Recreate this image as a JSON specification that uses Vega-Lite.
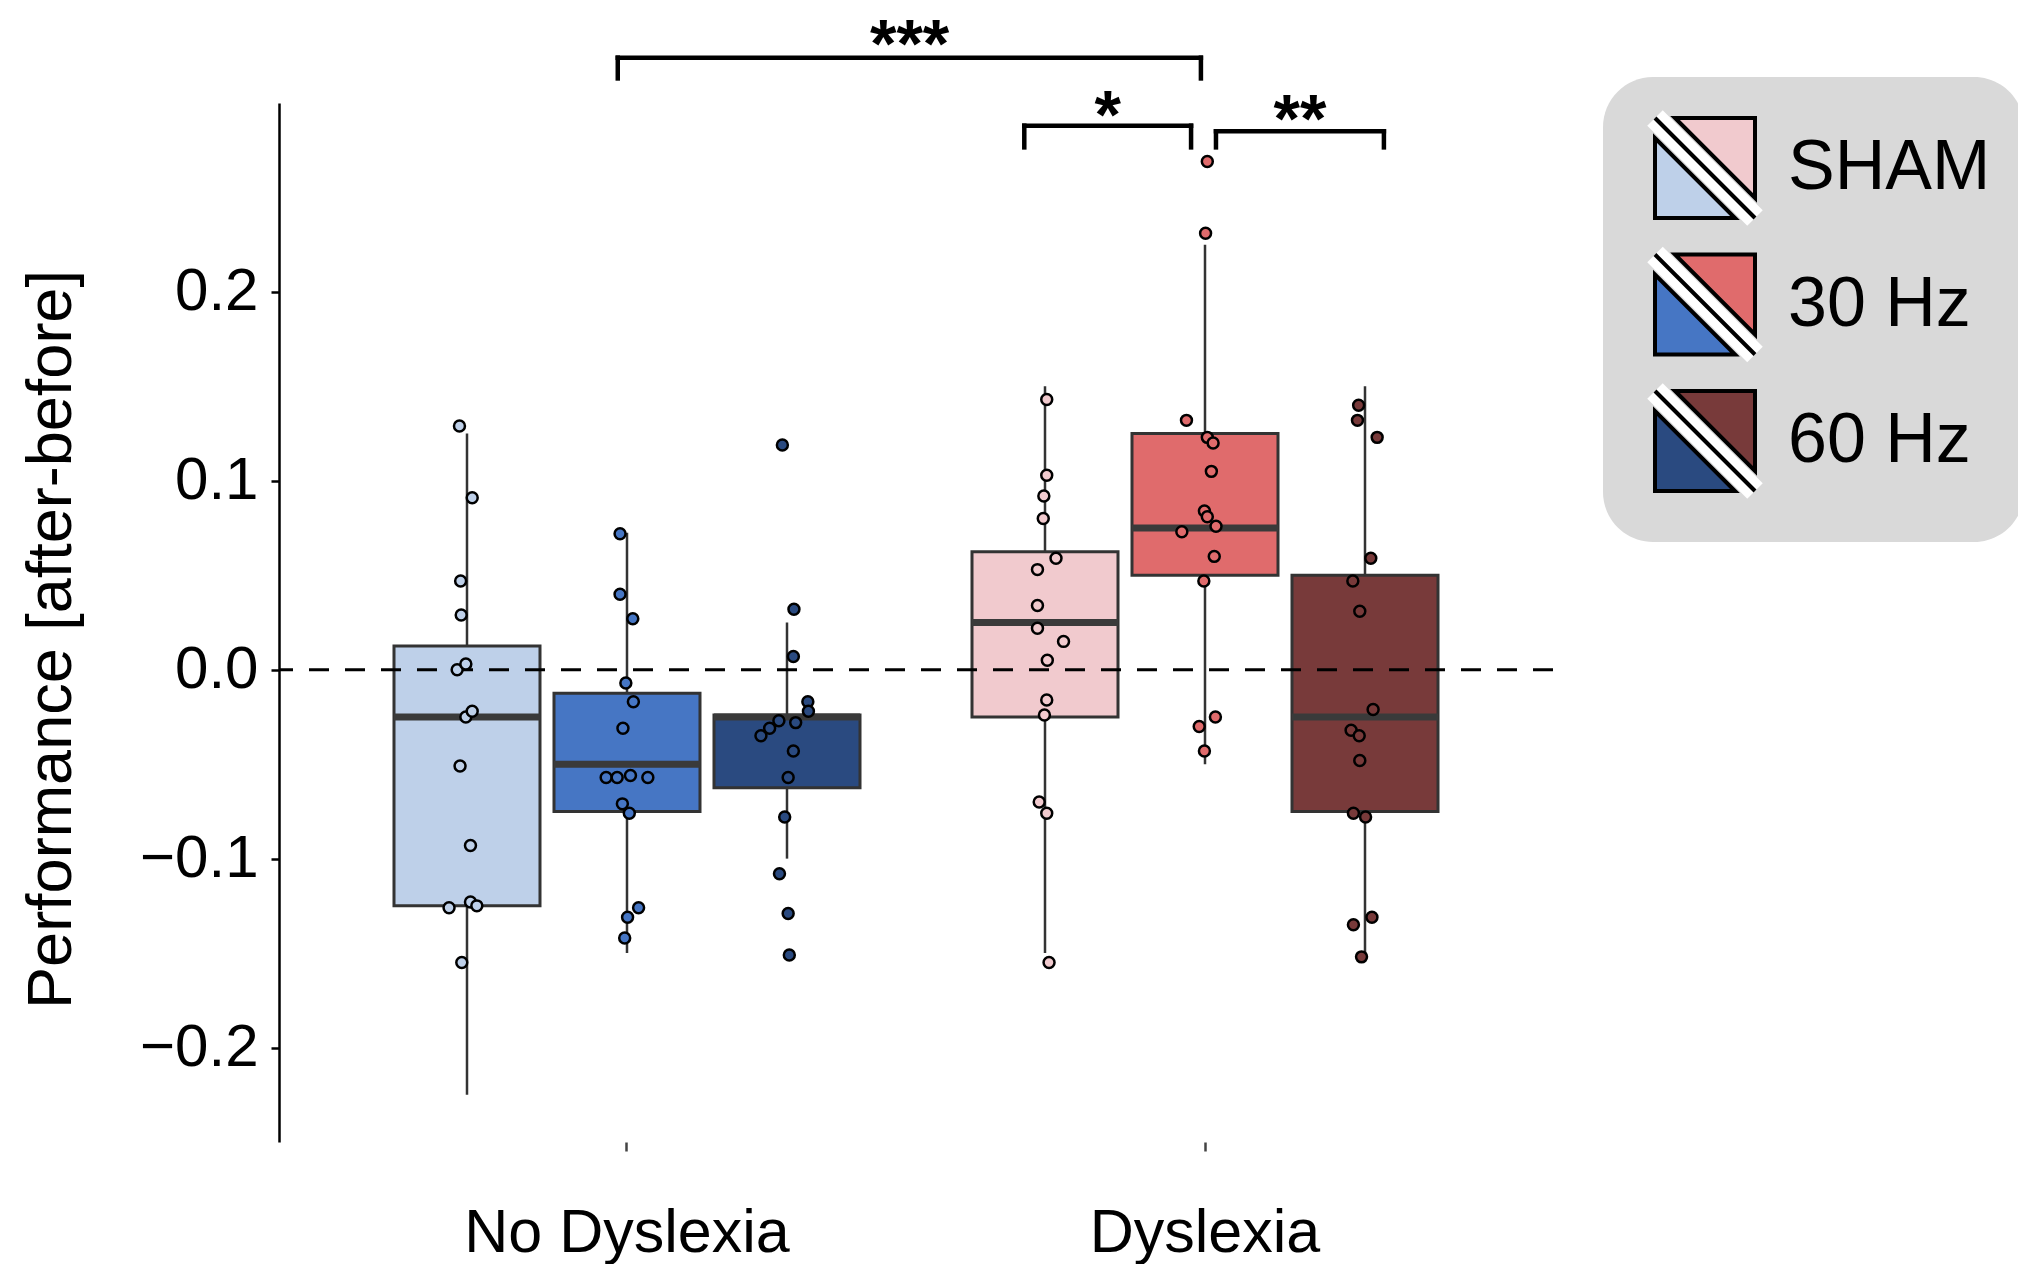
{
  "$schema": "https://vega.github.io/schema/vega-lite/v6.json",
  "width": 1274,
  "height": 1039,
  "autosize": {"type": "none"},
  "padding": {"left": 279, "top": 103, "right": 465, "bottom": 122},
  "background": "white",
  "datasets": {
    "boxes": [
      {"group": "No Dyslexia", "condition": "SHAM", "series": "No Dyslexia SHAM", "lower": -0.225, "q1": -0.125, "median": -0.025, "q3": 0.0125, "upper": 0.125},
      {"group": "No Dyslexia", "condition": "30 Hz", "series": "No Dyslexia 30 Hz", "lower": -0.15, "q1": -0.075, "median": -0.05, "q3": -0.0125, "upper": 0.0725},
      {"group": "No Dyslexia", "condition": "60 Hz", "series": "No Dyslexia 60 Hz", "lower": -0.1, "q1": -0.0625, "median": -0.025, "q3": -0.024, "upper": 0.025},
      {"group": "Dyslexia", "condition": "SHAM", "series": "Dyslexia SHAM", "lower": -0.15, "q1": -0.025, "median": 0.025, "q3": 0.0625, "upper": 0.15},
      {"group": "Dyslexia", "condition": "30 Hz", "series": "Dyslexia 30 Hz", "lower": -0.05, "q1": 0.05, "median": 0.075, "q3": 0.125, "upper": 0.225},
      {"group": "Dyslexia", "condition": "60 Hz", "series": "Dyslexia 60 Hz", "lower": -0.15, "q1": -0.075, "median": -0.025, "q3": 0.05, "upper": 0.15}
    ],
    "points": [
      {"group": "No Dyslexia", "condition": "SHAM", "series": "No Dyslexia SHAM", "value": 0.129, "jitter": -0.013},
      {"group": "No Dyslexia", "condition": "SHAM", "series": "No Dyslexia SHAM", "value": 0.091, "jitter": 0.009},
      {"group": "No Dyslexia", "condition": "SHAM", "series": "No Dyslexia SHAM", "value": 0.047, "jitter": -0.011},
      {"group": "No Dyslexia", "condition": "SHAM", "series": "No Dyslexia SHAM", "value": 0.029, "jitter": -0.010},
      {"group": "No Dyslexia", "condition": "SHAM", "series": "No Dyslexia SHAM", "value": 0.000, "jitter": -0.017},
      {"group": "No Dyslexia", "condition": "SHAM", "series": "No Dyslexia SHAM", "value": 0.003, "jitter": -0.002},
      {"group": "No Dyslexia", "condition": "SHAM", "series": "No Dyslexia SHAM", "value": -0.025, "jitter": -0.002},
      {"group": "No Dyslexia", "condition": "SHAM", "series": "No Dyslexia SHAM", "value": -0.022, "jitter": 0.009},
      {"group": "No Dyslexia", "condition": "SHAM", "series": "No Dyslexia SHAM", "value": -0.051, "jitter": -0.012},
      {"group": "No Dyslexia", "condition": "SHAM", "series": "No Dyslexia SHAM", "value": -0.093, "jitter": 0.006},
      {"group": "No Dyslexia", "condition": "SHAM", "series": "No Dyslexia SHAM", "value": -0.126, "jitter": -0.031},
      {"group": "No Dyslexia", "condition": "SHAM", "series": "No Dyslexia SHAM", "value": -0.123, "jitter": 0.006},
      {"group": "No Dyslexia", "condition": "SHAM", "series": "No Dyslexia SHAM", "value": -0.125, "jitter": 0.017},
      {"group": "No Dyslexia", "condition": "SHAM", "series": "No Dyslexia SHAM", "value": -0.155, "jitter": -0.009},
      {"group": "No Dyslexia", "condition": "30 Hz", "series": "No Dyslexia 30 Hz", "value": 0.072, "jitter": -0.012},
      {"group": "No Dyslexia", "condition": "30 Hz", "series": "No Dyslexia 30 Hz", "value": 0.040, "jitter": -0.012},
      {"group": "No Dyslexia", "condition": "30 Hz", "series": "No Dyslexia 30 Hz", "value": 0.027, "jitter": 0.010},
      {"group": "No Dyslexia", "condition": "30 Hz", "series": "No Dyslexia 30 Hz", "value": -0.007, "jitter": -0.002},
      {"group": "No Dyslexia", "condition": "30 Hz", "series": "No Dyslexia 30 Hz", "value": -0.017, "jitter": 0.011},
      {"group": "No Dyslexia", "condition": "30 Hz", "series": "No Dyslexia 30 Hz", "value": -0.031, "jitter": -0.007},
      {"group": "No Dyslexia", "condition": "30 Hz", "series": "No Dyslexia 30 Hz", "value": -0.057, "jitter": -0.036},
      {"group": "No Dyslexia", "condition": "30 Hz", "series": "No Dyslexia 30 Hz", "value": -0.057, "jitter": -0.017},
      {"group": "No Dyslexia", "condition": "30 Hz", "series": "No Dyslexia 30 Hz", "value": -0.056, "jitter": 0.006},
      {"group": "No Dyslexia", "condition": "30 Hz", "series": "No Dyslexia 30 Hz", "value": -0.057, "jitter": 0.036},
      {"group": "No Dyslexia", "condition": "30 Hz", "series": "No Dyslexia 30 Hz", "value": -0.071, "jitter": -0.008},
      {"group": "No Dyslexia", "condition": "30 Hz", "series": "No Dyslexia 30 Hz", "value": -0.076, "jitter": 0.004},
      {"group": "No Dyslexia", "condition": "30 Hz", "series": "No Dyslexia 30 Hz", "value": -0.126, "jitter": 0.020},
      {"group": "No Dyslexia", "condition": "30 Hz", "series": "No Dyslexia 30 Hz", "value": -0.131, "jitter": 0.001},
      {"group": "No Dyslexia", "condition": "30 Hz", "series": "No Dyslexia 30 Hz", "value": -0.142, "jitter": -0.004},
      {"group": "No Dyslexia", "condition": "60 Hz", "series": "No Dyslexia 60 Hz", "value": 0.119, "jitter": -0.008},
      {"group": "No Dyslexia", "condition": "60 Hz", "series": "No Dyslexia 60 Hz", "value": 0.032, "jitter": 0.012},
      {"group": "No Dyslexia", "condition": "60 Hz", "series": "No Dyslexia 60 Hz", "value": 0.007, "jitter": 0.011},
      {"group": "No Dyslexia", "condition": "60 Hz", "series": "No Dyslexia 60 Hz", "value": -0.017, "jitter": 0.036},
      {"group": "No Dyslexia", "condition": "60 Hz", "series": "No Dyslexia 60 Hz", "value": -0.022, "jitter": 0.037},
      {"group": "No Dyslexia", "condition": "60 Hz", "series": "No Dyslexia 60 Hz", "value": -0.027, "jitter": -0.014},
      {"group": "No Dyslexia", "condition": "60 Hz", "series": "No Dyslexia 60 Hz", "value": -0.031, "jitter": -0.030},
      {"group": "No Dyslexia", "condition": "60 Hz", "series": "No Dyslexia 60 Hz", "value": -0.035, "jitter": -0.045},
      {"group": "No Dyslexia", "condition": "60 Hz", "series": "No Dyslexia 60 Hz", "value": -0.028, "jitter": 0.015},
      {"group": "No Dyslexia", "condition": "60 Hz", "series": "No Dyslexia 60 Hz", "value": -0.043, "jitter": 0.011},
      {"group": "No Dyslexia", "condition": "60 Hz", "series": "No Dyslexia 60 Hz", "value": -0.057, "jitter": 0.002},
      {"group": "No Dyslexia", "condition": "60 Hz", "series": "No Dyslexia 60 Hz", "value": -0.078, "jitter": -0.004},
      {"group": "No Dyslexia", "condition": "60 Hz", "series": "No Dyslexia 60 Hz", "value": -0.108, "jitter": -0.013},
      {"group": "No Dyslexia", "condition": "60 Hz", "series": "No Dyslexia 60 Hz", "value": -0.129, "jitter": 0.002},
      {"group": "No Dyslexia", "condition": "60 Hz", "series": "No Dyslexia 60 Hz", "value": -0.151, "jitter": 0.004},
      {"group": "Dyslexia", "condition": "SHAM", "series": "Dyslexia SHAM", "value": 0.143, "jitter": 0.003},
      {"group": "Dyslexia", "condition": "SHAM", "series": "Dyslexia SHAM", "value": 0.103, "jitter": 0.003},
      {"group": "Dyslexia", "condition": "SHAM", "series": "Dyslexia SHAM", "value": 0.092, "jitter": -0.002},
      {"group": "Dyslexia", "condition": "SHAM", "series": "Dyslexia SHAM", "value": 0.080, "jitter": -0.003},
      {"group": "Dyslexia", "condition": "SHAM", "series": "Dyslexia SHAM", "value": 0.059, "jitter": 0.019},
      {"group": "Dyslexia", "condition": "SHAM", "series": "Dyslexia SHAM", "value": 0.053, "jitter": -0.013},
      {"group": "Dyslexia", "condition": "SHAM", "series": "Dyslexia SHAM", "value": 0.034, "jitter": -0.013},
      {"group": "Dyslexia", "condition": "SHAM", "series": "Dyslexia SHAM", "value": 0.022, "jitter": -0.013},
      {"group": "Dyslexia", "condition": "SHAM", "series": "Dyslexia SHAM", "value": 0.015, "jitter": 0.032},
      {"group": "Dyslexia", "condition": "SHAM", "series": "Dyslexia SHAM", "value": 0.005, "jitter": 0.004},
      {"group": "Dyslexia", "condition": "SHAM", "series": "Dyslexia SHAM", "value": -0.016, "jitter": 0.003},
      {"group": "Dyslexia", "condition": "SHAM", "series": "Dyslexia SHAM", "value": -0.024, "jitter": -0.001},
      {"group": "Dyslexia", "condition": "SHAM", "series": "Dyslexia SHAM", "value": -0.070, "jitter": -0.010},
      {"group": "Dyslexia", "condition": "SHAM", "series": "Dyslexia SHAM", "value": -0.076, "jitter": 0.003},
      {"group": "Dyslexia", "condition": "SHAM", "series": "Dyslexia SHAM", "value": -0.155, "jitter": 0.007},
      {"group": "Dyslexia", "condition": "30 Hz", "series": "Dyslexia 30 Hz", "value": 0.269, "jitter": 0.004},
      {"group": "Dyslexia", "condition": "30 Hz", "series": "Dyslexia 30 Hz", "value": 0.231, "jitter": 0.001},
      {"group": "Dyslexia", "condition": "30 Hz", "series": "Dyslexia 30 Hz", "value": 0.132, "jitter": -0.032},
      {"group": "Dyslexia", "condition": "30 Hz", "series": "Dyslexia 30 Hz", "value": 0.123, "jitter": 0.004},
      {"group": "Dyslexia", "condition": "30 Hz", "series": "Dyslexia 30 Hz", "value": 0.120, "jitter": 0.014},
      {"group": "Dyslexia", "condition": "30 Hz", "series": "Dyslexia 30 Hz", "value": 0.105, "jitter": 0.011},
      {"group": "Dyslexia", "condition": "30 Hz", "series": "Dyslexia 30 Hz", "value": 0.084, "jitter": -0.001},
      {"group": "Dyslexia", "condition": "30 Hz", "series": "Dyslexia 30 Hz", "value": 0.081, "jitter": 0.004},
      {"group": "Dyslexia", "condition": "30 Hz", "series": "Dyslexia 30 Hz", "value": 0.076, "jitter": 0.019},
      {"group": "Dyslexia", "condition": "30 Hz", "series": "Dyslexia 30 Hz", "value": 0.073, "jitter": -0.040},
      {"group": "Dyslexia", "condition": "30 Hz", "series": "Dyslexia 30 Hz", "value": 0.060, "jitter": 0.016},
      {"group": "Dyslexia", "condition": "30 Hz", "series": "Dyslexia 30 Hz", "value": 0.047, "jitter": -0.002},
      {"group": "Dyslexia", "condition": "30 Hz", "series": "Dyslexia 30 Hz", "value": -0.025, "jitter": 0.018},
      {"group": "Dyslexia", "condition": "30 Hz", "series": "Dyslexia 30 Hz", "value": -0.030, "jitter": -0.010},
      {"group": "Dyslexia", "condition": "30 Hz", "series": "Dyslexia 30 Hz", "value": -0.043, "jitter": -0.001},
      {"group": "Dyslexia", "condition": "60 Hz", "series": "Dyslexia 60 Hz", "value": 0.140, "jitter": -0.011},
      {"group": "Dyslexia", "condition": "60 Hz", "series": "Dyslexia 60 Hz", "value": 0.132, "jitter": -0.013},
      {"group": "Dyslexia", "condition": "60 Hz", "series": "Dyslexia 60 Hz", "value": 0.123, "jitter": 0.021},
      {"group": "Dyslexia", "condition": "60 Hz", "series": "Dyslexia 60 Hz", "value": 0.059, "jitter": 0.010},
      {"group": "Dyslexia", "condition": "60 Hz", "series": "Dyslexia 60 Hz", "value": 0.047, "jitter": -0.021},
      {"group": "Dyslexia", "condition": "60 Hz", "series": "Dyslexia 60 Hz", "value": 0.031, "jitter": -0.009},
      {"group": "Dyslexia", "condition": "60 Hz", "series": "Dyslexia 60 Hz", "value": -0.021, "jitter": 0.014},
      {"group": "Dyslexia", "condition": "60 Hz", "series": "Dyslexia 60 Hz", "value": -0.032, "jitter": -0.024},
      {"group": "Dyslexia", "condition": "60 Hz", "series": "Dyslexia 60 Hz", "value": -0.035, "jitter": -0.010},
      {"group": "Dyslexia", "condition": "60 Hz", "series": "Dyslexia 60 Hz", "value": -0.048, "jitter": -0.009},
      {"group": "Dyslexia", "condition": "60 Hz", "series": "Dyslexia 60 Hz", "value": -0.076, "jitter": -0.020},
      {"group": "Dyslexia", "condition": "60 Hz", "series": "Dyslexia 60 Hz", "value": -0.078, "jitter": 0.001},
      {"group": "Dyslexia", "condition": "60 Hz", "series": "Dyslexia 60 Hz", "value": -0.131, "jitter": 0.012},
      {"group": "Dyslexia", "condition": "60 Hz", "series": "Dyslexia 60 Hz", "value": -0.135, "jitter": -0.020},
      {"group": "Dyslexia", "condition": "60 Hz", "series": "Dyslexia 60 Hz", "value": -0.152, "jitter": -0.006}
    ],
    "brackets": [
      {"label": "***", "xmin": 0.985, "xmax": 1.992, "xmid": 1.489, "y": 0.324, "tip": 0.313, "ty": 0.3193},
      {"label": "*", "xmin": 1.687, "xmax": 1.975, "xmid": 1.831, "y": 0.288, "tip": 0.2765, "ty": 0.2817},
      {"label": "**", "xmin": 2.018, "xmax": 2.308, "xmid": 2.163, "y": 0.285, "tip": 0.2765, "ty": 0.2796}
    ],
    "legend": [
      {"condition": "SHAM", "nd": "No Dyslexia SHAM", "d": "Dyslexia SHAM"},
      {"condition": "30 Hz", "nd": "No Dyslexia 30 Hz", "d": "Dyslexia 30 Hz"},
      {"condition": "60 Hz", "nd": "No Dyslexia 60 Hz", "d": "Dyslexia 60 Hz"}
    ]
  },
  "layer": [
    {
      "layer": [
        {
          "data": {"name": "boxes"},
          "mark": {"type": "rule", "stroke": "#333333", "strokeWidth": 2.5},
          "encoding": {
            "x": {"field": "group", "type": "nominal", "sort": ["No Dyslexia", "Dyslexia"],
              "scale": {"domain": ["No Dyslexia", "Dyslexia"], "paddingInner": 0.16955, "paddingOuter": 0.18685},
              "axis": {"title": null, "domain": false, "ticks": true, "tickSize": 9, "tickWidth": 2.5, "tickColor": "#444444", "labelFontSize": 61, "labelBaseline": "alphabetic", "labelPadding": 100, "labelColor": "black", "labelAngle": 0, "labelLimit": 0, "grid": false}},
            "xOffset": {"field": "condition", "type": "nominal", "scale": {"domain": ["SHAM", "30 Hz", "60 Hz"], "paddingInner": 0.0875, "paddingOuter": 0.04375}},
            "y": {"field": "lower", "type": "quantitative",
              "scale": {"domain": [-0.25, 0.3], "nice": false, "zero": false},
              "axis": {"title": "Performance [after-before]", "values": [-0.2, -0.1, 0, 0.1, 0.2], "format": ".1f", "domainColor": "black", "domainWidth": 2.5, "tickColor": "black", "tickWidth": 2.5, "tickSize": 8, "labelFontSize": 60, "labelPadding": 13, "labelColor": "black", "titleFontSize": 63, "titleFontWeight": "normal", "titleColor": "black", "titleX": -209, "titleY": 536, "titleAngle": -90, "titleAlign": "center", "titleBaseline": "alphabetic", "grid": false, "labelOverlap": false, "labelFlush": false}},
            "y2": {"field": "upper"}
          }
        },
        {
          "data": {"name": "boxes"},
          "mark": {"type": "bar", "stroke": "#333333", "strokeWidth": 3},
          "encoding": {
            "x": {"field": "group", "type": "nominal"},
            "xOffset": {"field": "condition", "type": "nominal", "scale": {"domain": ["SHAM", "30 Hz", "60 Hz"], "paddingInner": 0.0875, "paddingOuter": 0.04375}},
            "y": {"field": "q1", "type": "quantitative"},
            "y2": {"field": "q3"},
            "fill": {"field": "series", "type": "nominal", "legend": null,
              "scale": {"domain": ["No Dyslexia SHAM", "No Dyslexia 30 Hz", "No Dyslexia 60 Hz", "Dyslexia SHAM", "Dyslexia 30 Hz", "Dyslexia 60 Hz"],
                        "range": ["#bed0e9", "#4676c4", "#2a4a80", "#f1cace", "#e06b6c", "#783a3a"]}}
          }
        },
        {
          "data": {"name": "boxes"},
          "mark": {"type": "tick", "thickness": 7, "size": 146, "color": "#3a3a3a", "opacity": 1},
          "encoding": {
            "x": {"field": "group", "type": "nominal"},
            "xOffset": {"field": "condition", "type": "nominal", "scale": {"domain": ["SHAM", "30 Hz", "60 Hz"], "paddingInner": 0.0875, "paddingOuter": 0.04375}},
            "y": {"field": "median", "type": "quantitative"}
          }
        },
        {
          "data": {"values": [{}]},
          "mark": {"type": "rule", "color": "black", "strokeWidth": 3.2, "strokeDash": [20, 16]},
          "encoding": {"y": {"datum": 0, "type": "quantitative"}}
        },
        {
          "data": {"name": "points"},
          "transform": [{"filter": "datum.condition === 'SHAM'"}],
          "mark": {"type": "point", "shape": "circle", "filled": true, "size": 120, "stroke": "black", "strokeWidth": 2.5, "opacity": 1},
          "encoding": {
            "x": {"field": "group", "type": "nominal"},
            "xOffset": {"field": "jitter", "type": "quantitative", "scale": {"domain": [-0.05, 0.05], "range": [51.05, 108.95], "nice": false, "zero": false}},
            "y": {"field": "value", "type": "quantitative"},
            "fill": {"field": "series", "type": "nominal", "legend": null,
              "scale": {"domain": ["No Dyslexia SHAM", "No Dyslexia 30 Hz", "No Dyslexia 60 Hz", "Dyslexia SHAM", "Dyslexia 30 Hz", "Dyslexia 60 Hz"],
                        "range": ["#bed0e9", "#4676c4", "#2a4a80", "#f1cace", "#e06b6c", "#783a3a"]}}
          }
        },
        {
          "data": {"name": "points"},
          "transform": [{"filter": "datum.condition === '30 Hz'"}],
          "mark": {"type": "point", "shape": "circle", "filled": true, "size": 120, "stroke": "black", "strokeWidth": 2.5, "opacity": 1},
          "encoding": {
            "x": {"field": "group", "type": "nominal"},
            "xOffset": {"field": "jitter", "type": "quantitative", "scale": {"domain": [-0.05, 0.05], "range": [211.05, 268.95], "nice": false, "zero": false}},
            "y": {"field": "value", "type": "quantitative"},
            "fill": {"field": "series", "type": "nominal", "legend": null}
          }
        },
        {
          "data": {"name": "points"},
          "transform": [{"filter": "datum.condition === '60 Hz'"}],
          "mark": {"type": "point", "shape": "circle", "filled": true, "size": 120, "stroke": "black", "strokeWidth": 2.5, "opacity": 1},
          "encoding": {
            "x": {"field": "group", "type": "nominal"},
            "xOffset": {"field": "jitter", "type": "quantitative", "scale": {"domain": [-0.05, 0.05], "range": [371.05, 428.95], "nice": false, "zero": false}},
            "y": {"field": "value", "type": "quantitative"},
            "fill": {"field": "series", "type": "nominal", "legend": null}
          }
        }
      ],
      "resolve": {"scale": {"xOffset": "independent"}}
    },
    {
      "data": {"name": "brackets"},
      "layer": [
        {
          "mark": {"type": "rule", "color": "black", "strokeWidth": 4.5, "strokeCap": "square"},
          "encoding": {
            "x": {"field": "xmin", "type": "quantitative", "scale": {"domain": [0.4, 2.6], "nice": false, "zero": false}, "axis": null},
            "x2": {"field": "xmax"},
            "y": {"field": "y", "type": "quantitative", "scale": {"domain": [-0.25, 0.3], "nice": false, "zero": false}, "axis": null}
          }
        },
        {
          "mark": {"type": "rule", "color": "black", "strokeWidth": 4.5, "strokeCap": "square"},
          "encoding": {
            "x": {"field": "xmin", "type": "quantitative"},
            "y": {"field": "tip", "type": "quantitative"},
            "y2": {"field": "y"}
          }
        },
        {
          "mark": {"type": "rule", "color": "black", "strokeWidth": 4.5, "strokeCap": "square"},
          "encoding": {
            "x": {"field": "xmax", "type": "quantitative"},
            "y": {"field": "tip", "type": "quantitative"},
            "y2": {"field": "y"}
          }
        },
        {
          "mark": {"type": "text", "fontSize": 68, "fontWeight": "bold", "baseline": "alphabetic", "align": "center", "color": "black"},
          "encoding": {
            "x": {"field": "xmid", "type": "quantitative"},
            "y": {"field": "ty", "type": "quantitative"},
            "text": {"field": "label"}
          }
        }
      ]
    },
    {
      "data": {"values": [{}]},
      "mark": {"type": "rect", "fill": "#d9d9d9", "cornerRadius": 50},
      "encoding": {
        "x": {"datum": 0, "type": "quantitative", "scale": {"domain": [0, 1], "range": [1324, 1745], "nice": false, "zero": false}, "axis": null},
        "x2": {"datum": 1},
        "y": {"datum": 0, "type": "quantitative", "scale": {"domain": [0, 1], "range": [-26, 439], "nice": false, "zero": false}, "axis": null},
        "y2": {"datum": 1}
      }
    },
    {
      "data": {"name": "legend"},
      "layer": [
        {
          "mark": {"type": "point", "shape": "M -1 -1 L 1 1", "filled": false, "stroke": "white", "strokeWidth": 22, "size": 10000, "opacity": 1},
          "encoding": {
            "x": {"datum": "swatch", "type": "nominal", "scale": {"type": "point", "domain": ["swatch", "label"], "range": [1426, 1509], "padding": 0}, "axis": null},
            "y": {"field": "condition", "type": "nominal", "scale": {"type": "point", "domain": ["SHAM", "30 Hz", "60 Hz"], "range": [65, 338], "padding": 0}, "axis": null}
          }
        },
        {
          "mark": {"type": "point", "shape": "M -1 -1 L 1 1", "filled": false, "stroke": "black", "strokeWidth": 4, "size": 10000, "opacity": 1},
          "encoding": {
            "x": {"datum": "swatch", "type": "nominal"},
            "y": {"field": "condition", "type": "nominal"}
          }
        },
        {
          "mark": {"type": "point", "shape": "M -1 -0.6 L -1 1 L 0.6 1 Z", "filled": true, "stroke": "black", "strokeWidth": 4, "size": 10000, "opacity": 1},
          "encoding": {
            "x": {"datum": "swatch", "type": "nominal"},
            "y": {"field": "condition", "type": "nominal"},
            "fill": {"field": "nd", "type": "nominal", "legend": null,
              "scale": {"domain": ["No Dyslexia SHAM", "No Dyslexia 30 Hz", "No Dyslexia 60 Hz", "Dyslexia SHAM", "Dyslexia 30 Hz", "Dyslexia 60 Hz"],
                        "range": ["#bed0e9", "#4676c4", "#2a4a80", "#f1cace", "#e06b6c", "#783a3a"]}}
          }
        },
        {
          "mark": {"type": "point", "shape": "M -0.6 -1 L 1 -1 L 1 0.6 Z", "filled": true, "stroke": "black", "strokeWidth": 4, "size": 10000, "opacity": 1},
          "encoding": {
            "x": {"datum": "swatch", "type": "nominal"},
            "y": {"field": "condition", "type": "nominal"},
            "fill": {"field": "d", "type": "nominal", "legend": null,
              "scale": {"domain": ["No Dyslexia SHAM", "No Dyslexia 30 Hz", "No Dyslexia 60 Hz", "Dyslexia SHAM", "Dyslexia 30 Hz", "Dyslexia 60 Hz"],
                        "range": ["#bed0e9", "#4676c4", "#2a4a80", "#f1cace", "#e06b6c", "#783a3a"]}}
          }
        },
        {
          "mark": {"type": "text", "align": "left", "baseline": "middle", "fontSize": 70, "color": "black"},
          "encoding": {
            "x": {"datum": "label", "type": "nominal"},
            "y": {"field": "condition", "type": "nominal"},
            "text": {"field": "condition"}
          }
        }
      ]
    }
  ],
  "resolve": {"scale": {"x": "independent", "y": "independent"}},
  "config": {
    "view": {"stroke": null},
    "font": "Liberation Sans",
    "text": {"font": "Liberation Sans"},
    "axis": {"labelFont": "Liberation Sans", "titleFont": "Liberation Sans"}
  }
}
